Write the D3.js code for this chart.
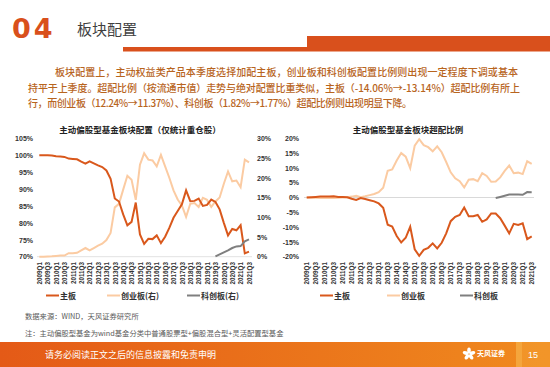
<!DOCTYPE html>
<html>
<head>
<meta charset="utf-8">
<script src="https://cdn.jsdelivr.net/npm/d3@7"></script>
<style>
  body { margin: 0; background: #fff; }
  svg { display: block; font-family: 'Noto Sans CJK SC', 'Liberation Sans', sans-serif; }
</style>
</head>
<body>
<div id="page"></div>
<script>
// quarters 2009Q1 .. 2021Q3
const quarters = []
for (let y = 2009; y <= 2021; y++) {
  for (let q = 1; q <= 4; q++) {
    if (y === 2021 && q > 3) break
    quarters.push(y + 'Q' + q)
  }
}

// 主动偏股型基金板块配置 (%)
const mainBoard = [100.0, 100.0, 100.0, 99.9, 99.7, 99.6, 99.5, 99.0, 98.9, 98.8,
  98.1, 97.5, 98.2, 97.6, 97.0, 96.5, 95.5, 93.0, 87.2, 86.3,
  82.5, 79.3, 80.3, 86.0, 76.6, 73.8, 75.3, 75.2, 76.3, 74.0,
  75.9, 78.5, 81.5, 83.5, 85.5, 89.6, 86.4, 86.5, 87.2, 85.0,
  85.3, 86.9, 86.2, 84.0, 80.0, 76.3, 78.2, 77.8, 79.3, 71.0, 71.5]
const gemBoard = [0, 0, 0.05, 0.1, 0.2, 0.3, 0.3, 0.9, 0.9, 1.0,
  1.6, 2.2, 1.6, 2.2, 2.8, 3.3, 4.2, 6.0, 12.5, 13.4,
  17.0, 20.5, 19.5, 14.4, 23.3, 26.2, 24.6, 24.4, 22.9, 25.8,
  22.9, 20.0, 16.8, 14.5, 13.0, 10.1, 13.4, 13.6, 12.6, 14.9,
  14.4, 12.6, 14.0, 15.0, 18.5, 21.6, 19.1, 19.3, 17.6, 24.6, 23.9]
// 科创板 from 2019Q3
const starStart = 42
const starBoard = [0.1, 0.6, 1.1, 1.6, 2.2, 2.6, 2.7, 3.9, 4.4]

// 板块超配比例 (%)
const mainExcess = [0, 0.1, 0.2, 0.3, 0.3, 0.3, 0.4, 0.2, 0.2, 0.1,
  -0.4, -0.8, -0.2, -0.5, -0.9, -1.3, -2.0, -3.5, -9.2, -9.8,
  -13.0, -15.2, -13.6, -9.9, -17.5, -19.7, -17.7, -17.0, -15.5, -17.2,
  -15.3, -12.1, -8.0, -6.5, -5.9, -3.4, -6.3, -6.3, -5.9, -8.2,
  -7.4, -5.4, -5.4, -7.0, -9.5, -12.1, -8.9, -9.3, -8.7, -14.06, -13.14]
const gemExcess = [0, -0.1, -0.1, -0.2, -0.1, -0.2, -0.2, -0.1, 0, 0.1,
  0.3, 0.6, 0.1, 0.4, 0.8, 1.2, 1.8, 3.3, 9.0, 9.5,
  12.5, 15.0, 13.8, 9.9, 17.5, 19.7, 17.7, 17.0, 15.6, 17.3,
  15.3, 12.0, 8.5, 6.5, 5.5, 3.4, 6.0, 6.2, 5.5, 8.2,
  7.3, 5.3, 5.4, 6.8, 9.0, 10.8, 8.2, 8.4, 7.9, 12.24, 11.37]
const starExcess = [-0.2, 0.2, 0.6, 1.0, 1.0, 1.0, 0.9, 1.82, 1.77]

const leftTicks = [70, 75, 80, 85, 90, 95, 100, 105]
const rightTicks = [0, 5, 10, 15, 20, 25, 30]
const excessTicks = [-20, -15, -10, -5, 0, 5, 10, 15, 20]

const orange = '#D9581C'
const peach = '#FBCBA2'
const grey = '#7F7F7F'

const width = 550
const height = 367

const svg = d3.select('#page')
  .append('svg')
  .attr('width', width)
  .attr('height', height)

// ---- header ----
svg.append('text')
  .attr('x', 12)
  .attr('y', 38)
  .attr('font-family', 'DejaVu Sans')
  .attr('font-weight', 'bold')
  .attr('font-size', 27)
  .attr('letter-spacing', 3)
  .attr('fill', '#D9501C')
  .text('04')

svg.append('text')
  .attr('x', 77)
  .attr('y', 35)
  .attr('font-size', 15)
  .attr('fill', '#404040')
  .text('板块配置')

svg.append('rect').attr('x', 123).attr('y', 47).attr('width', 184).attr('height', 4.5).attr('fill', '#D9501C')
svg.append('rect').attr('x', 307).attr('y', 36).attr('width', 243).attr('height', 15.5).attr('fill', '#D9501C')

const para = [
  { x: 55, y: 76, len: 463, t: '板块配置上，主动权益类产品本季度选择加配主板，创业板和科创板配置比例则出现一定程度下调或基本' },
  { x: 28, y: 92, len: 492, t: '持平于上季度。超配比例（按流通市值）走势与绝对配置比重类似，主板（-14.06%→-13.14%）超配比例有所上' },
  { x: 28, y: 107, len: 384, t: '行，而创业板（12.24%→11.37%）、科创板（1.82%→1.77%）超配比例则出现明显下降。' }
]
para.forEach(p => {
  svg.append('text')
    .attr('x', p.x)
    .attr('y', p.y)
    .attr('font-size', 10)
    .attr('font-weight', 500)
    .attr('fill', '#B8651E')
    .attr('textLength', p.len)
    .attr('lengthAdjust', 'spacing')
    .text(p.t)
})

// ---- left chart ----
const xLeft = d3.scalePoint().domain(quarters).range([39.3, 249])
const yLeft = d3.scaleLinear().domain([70, 105]).range([256.7, 138.3])
const yRight = d3.scaleLinear().domain([0, 30]).range([256.7, 138.3])

const tickFont = g => g.selectAll('text')
  .attr('font-family', 'Liberation Sans, Arial, sans-serif')
  .attr('font-weight', 'bold')
  .attr('font-size', 7)
  .attr('fill', '#333')

svg.append('text')
  .attr('x', 140).attr('y', 133)
  .attr('text-anchor', 'middle')
  .attr('font-size', 8.5).attr('font-weight', 'bold').attr('fill', '#222')
  .text('主动偏股型基金板块配置（仅统计重仓股）')

svg.append('g')
  .attr('transform', 'translate(35,0)')
  .call(d3.axisLeft(yLeft).tickValues(leftTicks).tickFormat(d => d + '%').tickSize(0).tickPadding(2))
  .call(g => g.select('.domain').remove())
  .call(tickFont)

svg.append('g')
  .attr('transform', 'translate(255,0)')
  .call(d3.axisRight(yRight).tickValues(rightTicks).tickFormat(d => d + '%').tickSize(0).tickPadding(2))
  .call(g => g.select('.domain').remove())
  .call(tickFont)

svg.append('line')
  .attr('x1', 37).attr('x2', 252)
  .attr('y1', yLeft(70)).attr('y2', yLeft(70))
  .attr('stroke', '#D9D9D9').attr('stroke-width', 0.8)

const lineL = d3.line().x((d, i) => xLeft(quarters[i])).y(d => yLeft(d))
const lineR = d3.line().x((d, i) => xLeft(quarters[i])).y(d => yRight(d))
const lineStar = d3.line().x((d, i) => xLeft(quarters[i + starStart])).y(d => yRight(d))

svg.append('path').datum(gemBoard).attr('d', lineR)
  .attr('fill', 'none').attr('stroke', peach).attr('stroke-width', 2)
svg.append('path').datum(mainBoard).attr('d', lineL)
  .attr('fill', 'none').attr('stroke', orange).attr('stroke-width', 2)
svg.append('path').datum(starBoard).attr('d', lineStar)
  .attr('fill', 'none').attr('stroke', grey).attr('stroke-width', 2)

const xLabels = quarters.filter((q, i) => i % 2 === 0)

svg.append('g')
  .attr('transform', 'translate(0,' + 262 + ')')
  .call(d3.axisBottom(xLeft).tickValues(xLabels).tickSize(0).tickPadding(0))
  .call(g => g.select('.domain').remove())
  .call(g => g.selectAll('text')
    .attr('transform', 'rotate(-90)')
    .attr('text-anchor', 'end')
    .attr('x', 0).attr('y', 0).attr('dy', '0.35em')
    .attr('font-family', 'Liberation Sans, Arial, sans-serif')
    .attr('font-weight', 'bold').attr('font-size', 6.3).attr('fill', '#333'))

// ---- right chart ----
const xEx = d3.scalePoint().domain(quarters).range([306.7, 531.7])
const yEx = d3.scaleLinear().domain([-20, 20]).range([256.7, 138.3])

svg.append('text')
  .attr('x', 408).attr('y', 133)
  .attr('text-anchor', 'middle')
  .attr('font-size', 8.5).attr('font-weight', 'bold').attr('fill', '#222')
  .text('主动偏股型基金板块超配比例')

svg.append('g')
  .attr('transform', 'translate(301,0)')
  .call(d3.axisLeft(yEx).tickValues(excessTicks).tickFormat(d => d + '%').tickSize(0).tickPadding(2))
  .call(g => g.select('.domain').remove())
  .call(tickFont)

svg.append('line')
  .attr('x1', 304).attr('x2', 534)
  .attr('y1', yEx(0)).attr('y2', yEx(0))
  .attr('stroke', '#D9D9D9').attr('stroke-width', 1)

const lineEx = d3.line().x((d, i) => xEx(quarters[i])).y(d => yEx(d))
const lineExStar = d3.line().x((d, i) => xEx(quarters[i + starStart])).y(d => yEx(d))

svg.append('path').datum(gemExcess).attr('d', lineEx)
  .attr('fill', 'none').attr('stroke', peach).attr('stroke-width', 2)
svg.append('path').datum(mainExcess).attr('d', lineEx)
  .attr('fill', 'none').attr('stroke', orange).attr('stroke-width', 2)
svg.append('path').datum(starExcess).attr('d', lineExStar)
  .attr('fill', 'none').attr('stroke', grey).attr('stroke-width', 2)

svg.append('g')
  .attr('transform', 'translate(0,' + 262 + ')')
  .call(d3.axisBottom(xEx).tickValues(xLabels).tickSize(0).tickPadding(0))
  .call(g => g.select('.domain').remove())
  .call(g => g.selectAll('text')
    .attr('transform', 'rotate(-90)')
    .attr('text-anchor', 'end')
    .attr('x', 0).attr('y', 0).attr('dy', '0.35em')
    .attr('font-family', 'Liberation Sans, Arial, sans-serif')
    .attr('font-weight', 'bold').attr('font-size', 6.3).attr('fill', '#333'))

// ---- legends ----
const legendLeft = [
  { x: 46, label: '主板', color: orange },
  { x: 107, label: '创业板(右)', color: peach },
  { x: 187, label: '科创板(右)', color: grey }
]
const legendRight = [
  { x: 320, label: '主板', color: orange },
  { x: 387, label: '创业板', color: peach },
  { x: 460, label: '科创板', color: grey }
]
legendLeft.concat(legendRight).forEach(d => {
  svg.append('line')
    .attr('x1', d.x).attr('x2', d.x + 13)
    .attr('y1', 295.5).attr('y2', 295.5)
    .attr('stroke', d.color).attr('stroke-width', 2)
  svg.append('text')
    .attr('x', d.x + 14).attr('y', 298.5)
    .attr('font-size', 8).attr('font-weight', 'bold').attr('fill', '#333')
    .text(d.label)
})

// ---- notes ----
svg.append('text')
  .attr('x', 25).attr('y', 319)
  .attr('font-size', 7.3).attr('fill', '#595959')
  .text('数据来源：WIND，天风证券研究所')
svg.append('text')
  .attr('x', 25).attr('y', 336)
  .attr('font-size', 7.3).attr('fill', '#595959')
  .text('注：主动偏股型基金为wind基金分类中普通股票型+偏股混合型+灵活配置型基金')

// ---- footer ----
const grad = svg.append('defs').append('linearGradient').attr('id', 'foot')
grad.append('stop').attr('offset', '0%').attr('stop-color', '#E45A17')
grad.append('stop').attr('offset', '100%').attr('stop-color', '#F08A1E')
svg.append('rect').attr('x', 0).attr('y', 342).attr('width', 550).attr('height', 25).attr('fill', 'url(#foot)')
svg.append('rect').attr('x', 516).attr('y', 342).attr('width', 34).attr('height', 25).attr('fill', '#F29A2E').attr('opacity', 0.7)
svg.append('rect').attr('x', 516).attr('y', 342).attr('width', 6).attr('height', 25).attr('fill', '#F6B04A').attr('opacity', 0.6)

svg.append('text')
  .attr('x', 45).attr('y', 357.5)
  .attr('font-size', 9).attr('fill', '#fff')
  .text('请务必阅读正文之后的信息披露和免责申明')

// logo
const logo = svg.append('g').attr('transform', 'translate(469,354)')
;[0, 72, 144, 216, 288].forEach(a => {
  logo.append('ellipse')
    .attr('cx', 0).attr('cy', -3.5).attr('rx', 1.8).attr('ry', 3)
    .attr('fill', '#fff')
    .attr('transform', 'rotate(' + a + ')')
})
svg.append('text')
  .attr('x', 477).attr('y', 356)
  .attr('font-size', 7).attr('font-weight', 'bold').attr('fill', '#fff')
  .text('天风证券')

svg.append('text')
  .attr('x', 528).attr('y', 358)
  .attr('font-family', 'Liberation Sans, Arial, sans-serif')
  .attr('font-size', 9).attr('fill', '#fff')
  .text('15')
</script>
</body>
</html>
